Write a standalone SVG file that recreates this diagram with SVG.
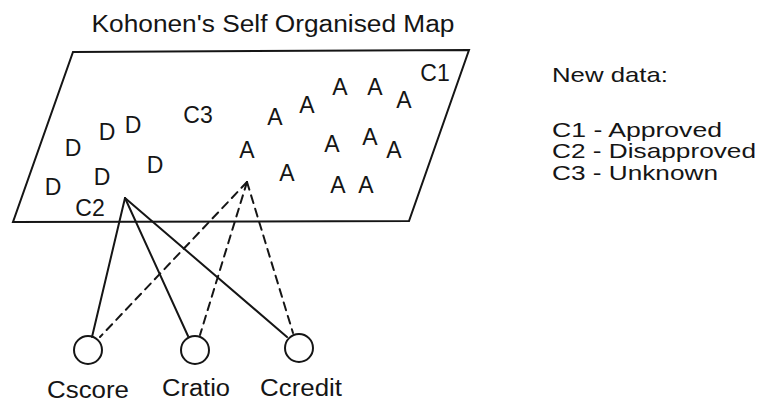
<svg xmlns="http://www.w3.org/2000/svg" width="761" height="405" viewBox="0 0 761 405">
<style>
text{font-family:"Liberation Sans",Arial,sans-serif;fill:#151515;font-size:23px}
.m{text-anchor:middle}
.lg{font-size:21px}
.ln{stroke:#151515;stroke-width:2;fill:none;stroke-linecap:round}
.ds{stroke-dasharray:8 6}
</style>
<rect width="761" height="405" fill="#fff"/>
<text class="m" x="273" y="32" textLength="363" lengthAdjust="spacingAndGlyphs">Kohonen's Self Organised Map</text>
<g id="map">
<path class="ln" d="M73,52 L469,50 L409,221 L13,222 Z"/>
</g>
<g id="labels">
<text class="m" x="435" y="81">C1</text>
<text class="m" x="198" y="123">C3</text>
<text class="m" x="90" y="216">C2</text>
<text class="m" x="275" y="125">A</text>
<text class="m" x="307" y="113">A</text>
<text class="m" x="340" y="95">A</text>
<text class="m" x="375" y="95">A</text>
<text class="m" x="404" y="108">A</text>
<text class="m" x="247" y="158">A</text>
<text class="m" x="287" y="181">A</text>
<text class="m" x="332" y="152">A</text>
<text class="m" x="370" y="145">A</text>
<text class="m" x="394" y="158">A</text>
<text class="m" x="338" y="193">A</text>
<text class="m" x="366" y="193">A</text>
<text class="m" x="73" y="156">D</text>
<text class="m" x="107" y="140">D</text>
<text class="m" x="133" y="133">D</text>
<text class="m" x="155" y="173">D</text>
<text class="m" x="102" y="185">D</text>
<text class="m" x="53" y="195">D</text>
</g>
<g id="connectors">
<line class="ln" x1="125" y1="198" x2="92" y2="337"/>
<line class="ln" x1="125" y1="198" x2="188" y2="336"/>
<line class="ln" x1="125" y1="198" x2="287" y2="337"/>
<line class="ln ds" x1="247" y1="182" x2="100" y2="337"/>
<line class="ln ds" x1="247" y1="182" x2="200" y2="335"/>
<line class="ln ds" x1="247" y1="182" x2="293" y2="333"/>
</g>
<g id="cscore">
<circle class="ln" cx="88" cy="350" r="14"/>
<text class="m" x="88" y="398" textLength="82" lengthAdjust="spacingAndGlyphs">Cscore</text>
</g>
<g id="cratio">
<circle class="ln" cx="195" cy="350" r="14"/>
<text class="m" x="196" y="396" textLength="68" lengthAdjust="spacingAndGlyphs">Cratio</text>
</g>
<g id="ccredit">
<circle class="ln" cx="299" cy="348" r="14"/>
<text class="m" x="301" y="396" textLength="82" lengthAdjust="spacingAndGlyphs">Ccredit</text>
</g>
<g id="legend">
<text class="lg" x="552" y="82" textLength="116" lengthAdjust="spacingAndGlyphs">New data:</text>
<text class="lg" x="552" y="137" textLength="170" lengthAdjust="spacingAndGlyphs">C1 - Approved</text>
<text class="lg" x="552" y="158" textLength="204" lengthAdjust="spacingAndGlyphs">C2 - Disapproved</text>
<text class="lg" x="552" y="180" textLength="166" lengthAdjust="spacingAndGlyphs">C3 - Unknown</text>
</g>
</svg>
